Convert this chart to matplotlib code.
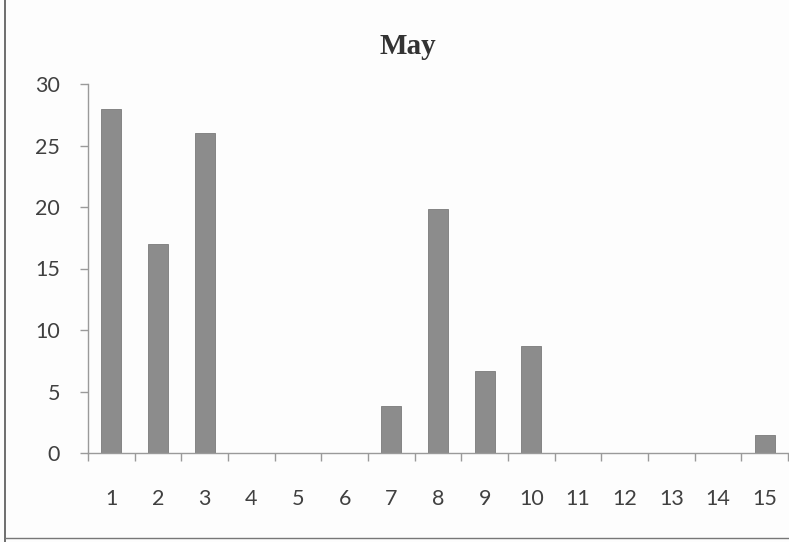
import matplotlib.pyplot as plt
import numpy as np
from matplotlib.lines import Line2D

# Data
days = list(range(1, 16))
counts = [28, 17, 26, 0, 0, 0, 3.8, 19.8, 6.7, 8.7, 0, 0, 0, 0, 1.5]
yticks = [0, 5, 10, 15, 20, 25, 30]

fig = plt.figure(figsize=(7.89, 5.42), dpi=100)
fig.patch.set_facecolor("#fdfdfd")
ax = fig.add_axes([88 / 789, 1 - 453 / 542, 700 / 789, (453 - 84) / 542])
ax.set_facecolor("none")

ax.bar(days, counts, width=0.43, color="#8c8c8c", edgecolor="#7a7a7a", linewidth=0.6)

ax.set_xlim(0.5, 15.5)
ax.set_ylim(0, 30)
ax.set_yticks(yticks)
ax.set_xticks(days)
ax.set_xticks(np.arange(0.5, 16, 1), minor=True)

for s in ["top", "right"]:
    ax.spines[s].set_visible(False)
for s in ["left", "bottom"]:
    ax.spines[s].set_color("#9a9a9a")
    ax.spines[s].set_linewidth(1.0)

ax.tick_params(axis="x", which="major", length=0, pad=26, labelsize=15.5, labelcolor="#404040")
ax.tick_params(axis="x", which="minor", length=6, color="#9a9a9a", width=1.0)
ax.tick_params(axis="y", length=6, color="#9a9a9a", width=1.0, pad=14, labelsize=15.5, labelcolor="#404040")
for lab in ax.get_xticklabels() + ax.get_yticklabels():
    lab.set_fontfamily("Lato")

fig.text(408 / 789, 1 - 47 / 542, "May", ha="center", va="center",
         fontsize=21, fontweight="bold", family="Liberation Serif", color="#333333")

# border lines of the scanned chart frame
fig.add_artist(Line2D([5 / 789, 5 / 789], [0, 1], transform=fig.transFigure, color="#555555", lw=1.2))
fig.add_artist(Line2D([5 / 789, 1], [1 - 538 / 542, 1 - 538 / 542], transform=fig.transFigure, color="#777777", lw=1.0))

fig.savefig("out.png", dpi=100, facecolor=fig.get_facecolor())
